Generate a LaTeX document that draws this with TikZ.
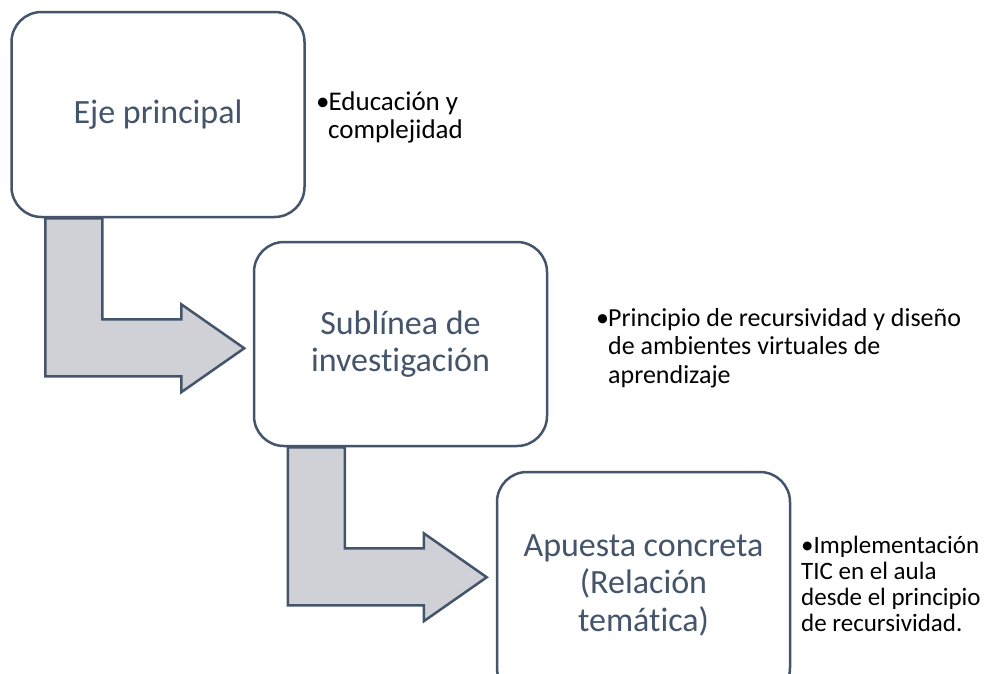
\documentclass[tikz,border=0pt]{standalone}
\usepackage{fontspec}
\setmainfont{Carlito}[Ligatures=NoCommon]
\definecolor{slate}{HTML}{44546A}
\definecolor{arrowgray}{RGB}{208,209,214}
\newcommand{\bul}[1][0.46em]{\makebox[#1][l]{•}}
\tikzset{
  stage/.style={draw=slate, line width=2.5pt, fill=white, rounded corners=30pt,
    text=slate, align=center, font=\fontsize{34}{37.5}\selectfont,
    minimum width=293pt, inner sep=0pt},
  bentarrow/.style={draw=slate, line width=2.5pt, fill=arrowgray, line join=miter},
  note/.style={anchor=base west, align=left, inner sep=0pt, text=black},
}
\begin{document}
\begin{tikzpicture}[x=1pt, y=-1pt]
    \useasboundingbox (0,0) rectangle (985,673);

    % Draw the three stages
    \node[stage, minimum height=205pt] (eje) at (158,114.5) {Eje principal};
    \node[stage, minimum height=204pt] (sub) at (400.5,344) {Sublínea de\\investigación};
    \node[stage, minimum height=226pt] (apu) at (643.5,585) {Apuesta concreta\\(Relación\\temática)};

    % Draw the bent arrows from one stage to the next
    \foreach \b in {eje,sub} {
        \draw[bentarrow] ([xshift=35pt]\b.south west) -- ++(57,0) -- ++(0,101)
            -- ++(79,0) -- ++(0,-15) -- ++(63,44) -- ++(-63,44) -- ++(0,-16)
            -- ++(-136,0) -- cycle;
    }

    % Notes beside the stages (placed at the baseline of their last line)
    \node[note, font=\fontsize{27}{28}\selectfont] (n1) at (316,138)
        {\bul Educación y\\\hspace*{0.44em}complejidad};
    \node[note, font=\fontsize{26}{28.5}\selectfont] (n2) at (596,383)
        {\bul Principio de recursividad y diseño\\\hspace*{0.46em}de ambientes virtuales de\\\hspace*{0.46em}aprendizaje};
    \node[note, font=\fontsize{25}{26}\selectfont] (n3) at (801,631)
        {\bul[0.5em]Implementación\\TIC en el aula\\desde el principio\\de recursividad.};
\end{tikzpicture}
\end{document}
